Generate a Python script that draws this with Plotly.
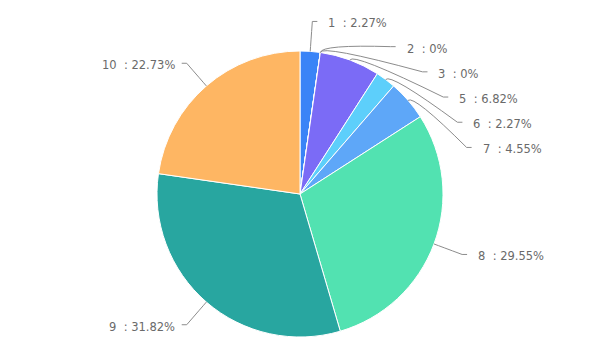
import math
import plotly.graph_objects as go

# ---- data ----
categories = ["1", "2", "3", "5", "6", "7", "8", "9", "10"]
counts = [1, 0, 0, 3, 1, 2, 13, 14, 10]
# colour per category (categories 2 and 3 are 0 and not visible)
slice_colors = ["#3A84F7", "#7C6FF6", "#6C8AF5", "#7B6BF6", "#5DCFFB", "#5EA7F8", "#52E2B1", "#28A6A0", "#FEB663"]

# ---- layout constants (pixels) ----
W, H = 599, 362
OFF = 8            # page body margin
cx, cy, r = 300 - OFF, 194 - OFF, 143
len1 = 30          # radial extension for label anchor
gap = 25.2         # min vertical spacing of labels
font = dict(family="DejaVu Sans", size=11.5, color="#6A6A6A")

total = sum(counts)
pcts = [c / total * 100 for c in counts]


def fmt(p):
    s = f"{p:.2f}".rstrip("0").rstrip(".")
    return s + "%"


fig = go.Figure()
fig.add_trace(go.Pie(
    labels=categories, values=counts, sort=False, direction="clockwise",
    rotation=0, textinfo="none", hoverinfo="label+percent",
    marker=dict(colors=slice_colors, line=dict(color="#ffffff", width=1)),
    domain=dict(x=[(cx - r) / W, (cx + r) / W], y=[1 - (cy + r) / H, 1 - (cy - r) / H]),
    showlegend=False,
))

# compute mid angles
items = []
cum = 0
for cat, c, p in zip(categories, counts, pcts):
    mid = (cum + c / 2) / total * 2 * math.pi
    cum += c
    s, co = math.sin(mid), math.cos(mid)
    items.append(dict(cat=cat, p=p, s=s, c=co,
                      ex=cx + r * s, ey=cy - r * co,
                      nx=cx + (r + len1) * s, ny=cy - (r + len1) * co))

R = r + len1
for side in (1, -1):
    grp = [it for it in items if (it["s"] >= 0) == (side == 1)]
    grp.sort(key=lambda it: it["ny"])
    prev = -1e9
    for it in grp:
        y = max(it["ny"], prev + gap)
        prev = y
        it["ly"] = y
        if abs(y - it["ny"]) < 0.5:
            it["lx"] = it["nx"]
        else:
            dy = y - cy
            it["lx"] = cx + side * math.sqrt(max(R * R - dy * dy, 0))
        it["side"] = side


def px(x):
    return x / W


def py(y):
    return 1 - y / H


shapes = []
annotations = []
for it in items:
    side = it["side"]
    p0 = (it["ex"], it["ey"])
    p1 = (cx + (r + 8) * it["s"], cy - (r + 8) * it["c"])
    p2 = (it["lx"] + side * 5, it["ly"])
    path = (f"M {px(p0[0])},{py(p0[1])} Q {px(p1[0])},{py(p1[1])} "
            f"{px(it['lx'])},{py(it['ly'])} L {px(p2[0])},{py(p2[1])}")
    shapes.append(dict(type="path", path=path, xref="paper", yref="paper",
                       line=dict(color="#8C8C8C", width=1)))
    tx = it["lx"] + (14 if side == 1 else -10)
    annotations.append(dict(
        x=px(tx), y=py(it["ly"]), xref="paper", yref="paper", yshift=-2,
        text=f"{it['cat']}  : {fmt(it['p'])}", showarrow=False,
        xanchor="left" if side == 1 else "right", yanchor="middle",
        font=font))

fig.update_layout(
    width=W, height=H, margin=dict(l=0, r=0, t=0, b=0),
    paper_bgcolor="#ffffff", plot_bgcolor="#ffffff",
    shapes=shapes, annotations=annotations,
)

fig.write_html("out.html")
